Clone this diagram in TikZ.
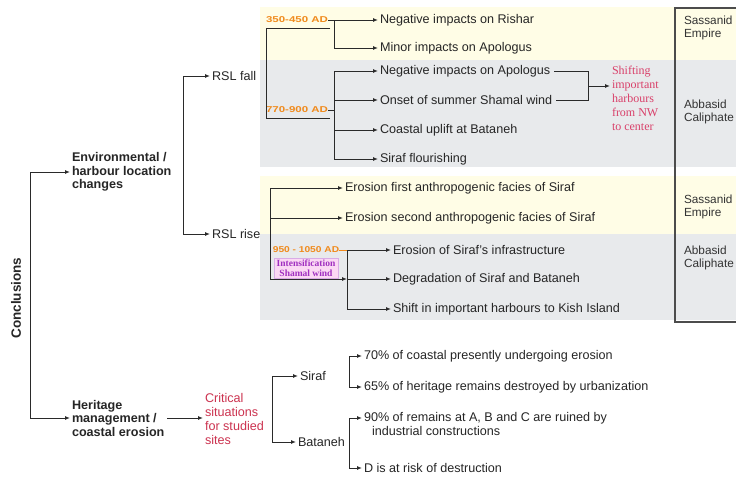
\documentclass[tikz,border=0pt]{standalone}
\usepackage{fontspec}
\setmainfont{Liberation Sans}
\newfontfamily\serifnote{Liberation Serif}
\usetikzlibrary{arrows.meta}
\definecolor{bandyellow}{HTML}{FFFDE6}
\definecolor{bandgray}{HTML}{E8EAEC}
\definecolor{datecol}{HTML}{F08A1C}
\definecolor{pinkred}{HTML}{D9406A}
\definecolor{critred}{HTML}{CC3350}
\definecolor{purp}{HTML}{A030C0}
\definecolor{pinkfill}{HTML}{FBD8F4}
\definecolor{linecol}{HTML}{2A2A2A}
\begin{document}
\begin{tikzpicture}[x=1pt,y=-1pt,
  every node/.style={inner sep=0pt, outer sep=0pt},
  txt/.style={anchor=west, font=\fontsize{12.6}{14}\selectfont, text=black!85},
  btxt/.style={anchor=west, align=left, font=\bfseries\fontsize{12.6}{13.5}\selectfont, text=black!85},
  date/.style={font=\bfseries\fontsize{8.5}{9}\selectfont, text=datecol},
  col/.style={anchor=west, align=left, font=\fontsize{11.8}{13.5}\selectfont, text=black!80},
  conn/.style={draw=linecol, line width=1pt},
  arr/.style={conn, -{Latex[length=5pt,width=4pt]}, shorten >=2pt},
]
\useasboundingbox (0,0) rectangle (736,479);
\clip (0,0) rectangle (736,479);
\fill[white] (0,0) rectangle (736,479);

% background bands
\fill[bandyellow] (260,7) rectangle (736,60);
\fill[bandgray] (260,60) rectangle (736,167);
\fill[bandyellow] (260,176) rectangle (736,234);
\fill[bandgray] (260,234) rectangle (736,320);
\draw[line width=1.6pt, draw=black!70] (745,8) -- (675,8) -- (675,322) -- (745,322);

% right column
\node[col] (sas1) at (684,28) {Sassanid\\Empire};
\node[col] (abb1) at (684,112) {Abbasid\\Caliphate};
\node[col] (sas2) at (684,207) {Sassanid\\Empire};
\node[col] (abb2) at (684,258) {Abbasid\\Caliphate};

% level 0
\node[rotate=90, font=\bfseries\fontsize{13.5}{15}\selectfont, text=black!85] (concl) at (16,298) {Conclusions};
\node[btxt] (env) at (72,172) {Environmental /\\harbour location\\changes};
\node[btxt] (her) at (72,418) {Heritage\\management /\\coastal erosion};
\coordinate (ctop) at (30,172);
\coordinate (cbot) at (30,418);
\draw[conn] (ctop) -- (cbot);
\draw[arr] (ctop) -- (env.west);
\draw[arr] (cbot) -- (her.west);

% RSL
\node[txt] (fall) at (212,76) {RSL fall};
\node[txt] (rise) at (212,234) {RSL rise};
\coordinate (eT) at (183,76);
\coordinate (eB) at (183,234);
\draw[conn] (eT) -- (eB);
\draw[arr] (eT) -- (fall.west);
\draw[arr] (eB) -- (rise.west);

% RSL fall
\node[date] (d1) at (297,20) {\scalebox{1.35}[1]{350-450 AD}};
\node[date] (d2) at (297,110) {\scalebox{1.35}[1]{770-900 AD}};
\coordinate (fT) at (266,28);
\coordinate (fB) at (266,118);
\draw[conn] (330,28) -- (fT) -- (fB) -- (330,118);

\node[txt] (a1) at (380,20) {Negative impacts on Rishar};
\node[txt] (a2) at (380,48) {Minor impacts on Apologus};
\coordinate (g1T) at (334,20);
\coordinate (g1B) at (334,48);
\draw[conn] (d1.east) -- (g1T);
\draw[conn] (g1T) -- (g1B);
\draw[arr] (g1T) -- (a1.west);
\draw[arr] (g1B) -- (a2.west);

\node[txt] (a3) at (380,71) {Negative impacts on Apologus};
\node[txt] (a4) at (380,100) {Onset of summer Shamal wind};
\node[txt] (a5) at (380,130) {Coastal uplift at Bataneh};
\node[txt] (a6) at (380,159) {Siraf flourishing};
\coordinate (g2T) at (334,71);
\coordinate (g2B) at (334,159);
\draw[conn] (d2.east) -- (d2.east -| g2T);
\draw[conn] (g2T) -- (g2B);
\draw[arr] (g2T) -- (a3.west);
\draw[arr] (g2T |- a4.west) -- (a4.west);
\draw[arr] (g2T |- a5.west) -- (a5.west);
\draw[arr] (g2B) -- (a6.west);

% shifting harbours
\node[anchor=west, align=left, font=\serifnote\fontsize{12}{14}\selectfont, text=pinkred] (shiftn) at (612,98) {Shifting\\important\\harbours\\from NW\\to center};
\coordinate (sbr) at (588,86);
\draw[conn] ([xshift=4pt]a3.east) -- (a3.east -| sbr) -- (a4.east -| sbr) -- ([xshift=4pt]a4.east);
\draw[arr] (sbr) -- (sbr -| shiftn.west);

% RSL rise
\node[txt] (e1) at (345,188) {Erosion first anthropogenic facies of Siraf};
\node[txt] (e2) at (345,218) {Erosion second anthropogenic facies of Siraf};
\node[fill=pinkfill, draw=purp!40, inner xsep=3pt, inner ysep=1.5pt, align=center, font=\serifnote\bfseries\fontsize{9.5}{10.5}\selectfont, text=purp] (intens) at (306,268) {Intensification\\Shamal wind};
\node[date] (d3) at (306,250) {\scalebox{1.2}[1]{950 - 1050 AD}};
\coordinate (r1T) at (270,188);
\coordinate (r1B) at (270,279);
\draw[conn] (r1T) -- (r1B);
\draw[arr] (r1T) -- (e1.west);
\draw[arr] (r1T |- e2.west) -- (e2.west);

\node[txt] (h1) at (393,250) {Erosion of Siraf's infrastructure};
\node[txt] (h2) at (393,279) {Degradation of Siraf and Bataneh};
\node[txt] (h3) at (393,309) {Shift in important harbours to Kish Island};
\coordinate (r2T) at (347,250);
\coordinate (r2B) at (347,309);
\draw[conn, draw=datecol] (d3.east) -- (r2T);
\draw[arr, shorten >=0pt] (r1B) -- (r1B -| r2T);
\draw[conn] (r2T) -- (r2B);
\draw[arr] (r2T) -- (h1.west);
\draw[arr] (r2T |- h2.west) -- (h2.west);
\draw[arr] (r2B) -- (h3.west);

% heritage
\node[anchor=west, align=left, font=\fontsize{12.6}{13.7}\selectfont, text=critred] (crit) at (205,419) {Critical\\situations\\for studied\\sites};
\draw[arr] ([xshift=3pt]her.east |- cbot) -- (crit.west |- cbot);

\node[txt] (siraf) at (300,376) {Siraf};
\node[txt] (bat) at (298,442) {Bataneh};
\coordinate (cT) at (272,376);
\coordinate (cB) at (272,442);
\draw[conn] (cT) -- (cB);
\draw[arr] (cT) -- (siraf.west);
\draw[arr] (cB) -- (bat.west);

\node[txt] (s1) at (364,356) {70\% of coastal presently undergoing erosion};
\node[txt] (s2) at (364,387) {65\% of heritage remains destroyed by urbanization};
\coordinate (sT) at (349,356);
\coordinate (sB) at (349,387);
\draw[conn] (sT) -- (sB);
\draw[arr] (sT) -- (s1.west);
\draw[arr] (sB) -- (s2.west);

\node[txt] (b1) at (364,418) {90\% of remains at A, B and C are ruined by};
\node[txt] (b1b) at (372,431) {industrial constructions};
\node[txt] (b2) at (364,468) {D is at risk of destruction};
\coordinate (bT) at (349,418);
\coordinate (bB) at (349,468);
\draw[conn] (bT) -- (bB);
\draw[arr] (bT) -- (b1.west);
\draw[arr] (bB) -- (b2.west);
\end{tikzpicture}
\end{document}
